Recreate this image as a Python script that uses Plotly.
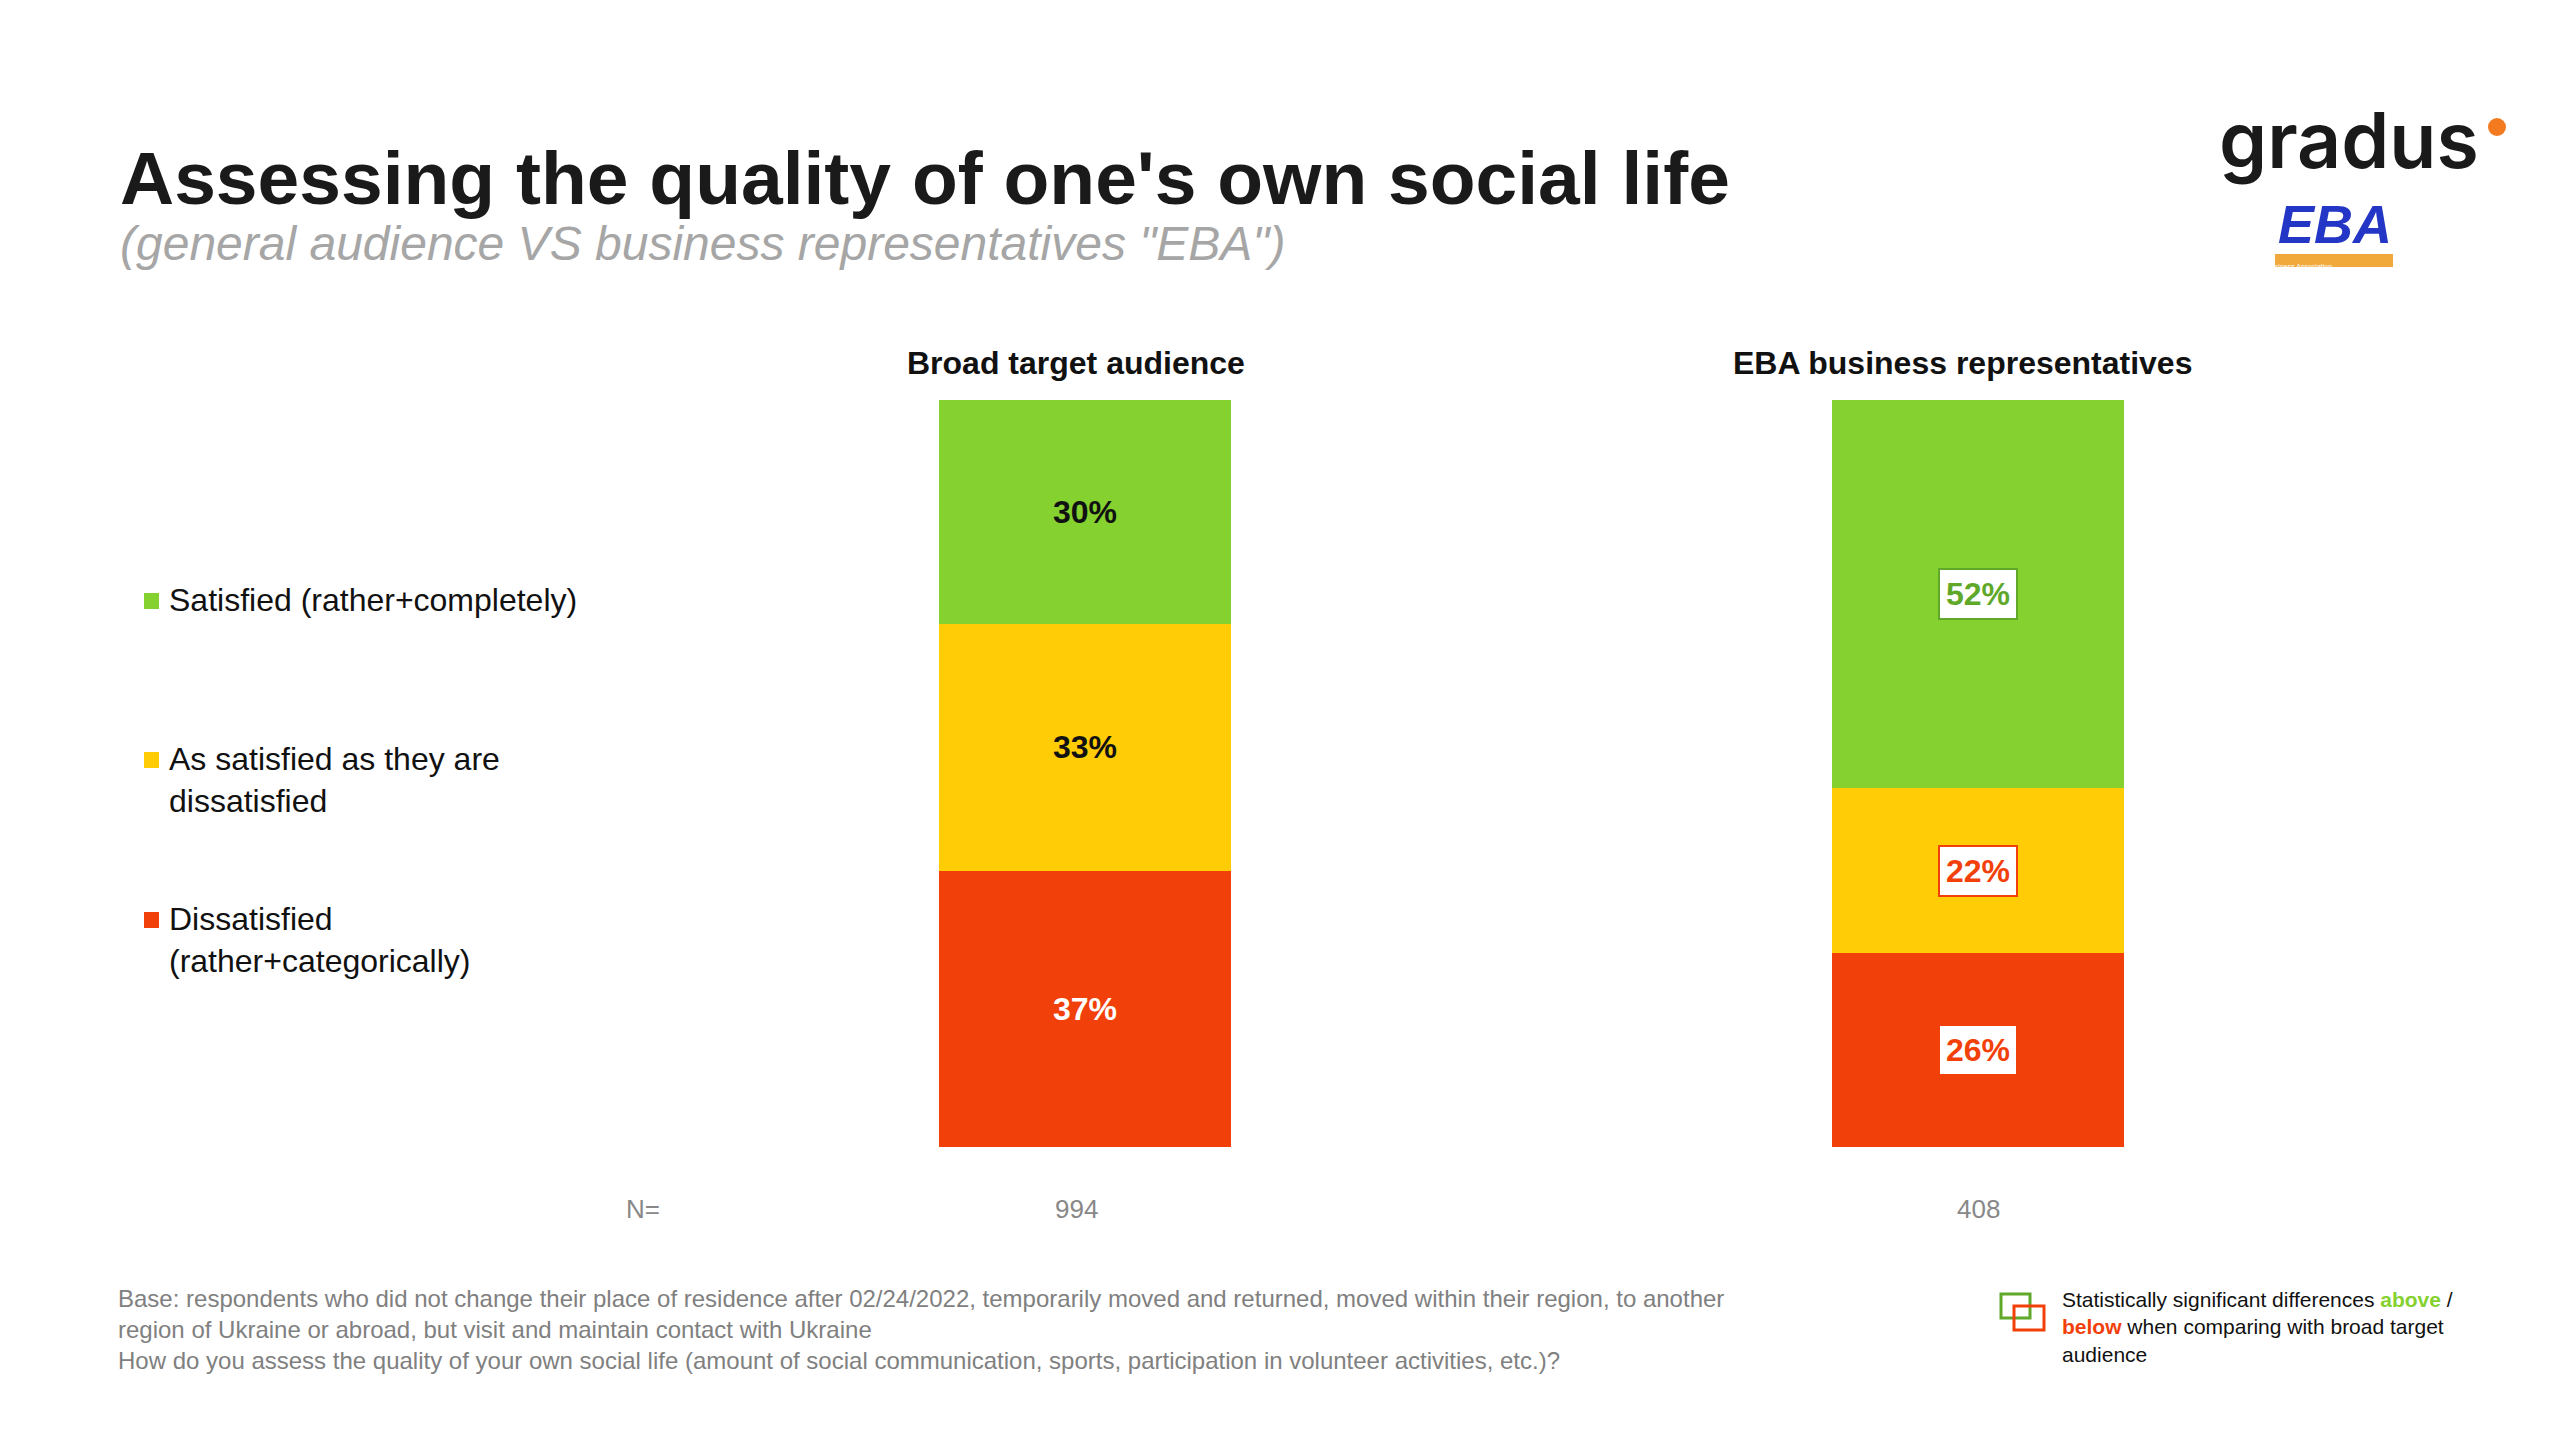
import plotly.graph_objects as go

groups = ["Broad target audience", "EBA business representatives"]
n_values = ["994", "408"]
categories = ["Dissatisfied<br>(rather+categorically)", "As satisfied as they are<br>dissatisfied", "Satisfied (rather+completely)"]
dissatisfied = [37, 26]
neutral = [33, 22]
satisfied = [30, 52]
colors = ["#F2400A", "#FFCC05", "#84D12F"]
broad_text_colors = ["#FFFFFF", "#111111", "#111111"]
eba_sig_colors = ["#F2400A", "#F2400A", "#5FA82A"]

series = [dissatisfied, neutral, satisfied]
xs = [0, 1]
W, H = 2560, 1440
FONT = "Liberation Sans, Arial, sans-serif"
C0, C1 = 1077.0, 1970.0
SPAN = C1 - C0

fig = go.Figure()
for vals, c in zip(series, colors):
    fig.add_trace(go.Bar(x=xs, y=vals, marker=dict(color=c, line=dict(width=0)), width=292 / SPAN, showlegend=False))

base = [0, 0]
for i, vals in enumerate(series):
    for g in range(2):
        mid = base[g] + vals[g] / 2
        if g == 0:
            fig.add_annotation(x=xs[g], y=mid, text=f"<b>{vals[g]}%</b>", showarrow=False,
                               font=dict(size=32, color=broad_text_colors[i], family=FONT))
        else:
            fig.add_annotation(x=xs[g], y=mid, text=f"<b>{vals[g]}%</b>", showarrow=False,
                               font=dict(size=32, color=eba_sig_colors[i], family=FONT),
                               bgcolor="white", bordercolor=eba_sig_colors[i], borderwidth=2, borderpad=6)
    base = [base[g] + vals[g] for g in range(2)]

for g in range(2):
    fig.add_annotation(x=xs[g] - (0.01 if g == 0 else 0.017), y=1 - 335 / H, yref="paper", text=f"<b>{groups[g]}</b>",
                       showarrow=False, font=dict(size=32, color="#111", family=FONT))
    fig.add_annotation(x=xs[g] - (0.009 if g == 0 else 0), y=1 - 1218 / H, yref="paper", text=n_values[g], showarrow=False,
                       font=dict(size=26, color="#888", family=FONT))
fig.add_annotation(x=616 / W, xref="paper", y=1 - 1218 / H, yref="paper", text="N=", showarrow=False,
                   font=dict(size=26, color="#888", family=FONT))

leg_y = [912, 752, 593]
for cat, c, y in zip(categories, colors, leg_y):
    fig.add_shape(type="rect", xref="paper", yref="paper", x0=136 / W, x1=151 / W,
                  y0=1 - (y + 8) / H, y1=1 - (y - 8) / H, fillcolor=c, line=dict(width=0))
    fig.add_annotation(x=159 / W, xref="paper", y=1 - (y - 21) / H, yref="paper", xanchor="left", yanchor="top",
                       text=cat, align="left", showarrow=False, font=dict(size=32, color="#111", family=FONT))

fig.add_annotation(x=110 / W, xref="paper", y=1 - 170 / H, yref="paper", xanchor="left", yanchor="middle",
                   text="<b>Assessing the quality of one's own social life</b>", showarrow=False,
                   font=dict(size=75, color="#1a1a1a", family=FONT))
fig.add_annotation(x=110 / W, xref="paper", y=1 - 236 / H, yref="paper", xanchor="left", yanchor="middle",
                   text="<i>(general audience VS business representatives \"EBA\")</i>", showarrow=False,
                   font=dict(size=48, color="#A6A6A6", family=FONT))

# logos
fig.add_annotation(x=2473 / W, xref="paper", y=1 - 132 / H, yref="paper", xanchor="right", yanchor="middle",
                   text="gradus", showarrow=False,
                   font=dict(size=77, color="#1a1a1a", family="Inter, sans-serif", weight=600))
fig.add_shape(type="circle", xref="paper", yref="paper", x0=2480 / W, x1=2498 / W, y0=1 - 128 / H, y1=1 - 110 / H,
              fillcolor="#F47A20", line=dict(width=0))
fig.add_annotation(x=2386 / W, xref="paper", y=1 - 248 / H, yref="paper", xanchor="right", yanchor="bottom",
                   text="<b><i>EBA</i></b>", showarrow=False,
                   font=dict(size=54, color="#2436C6", family=FONT))
fig.add_shape(type="rect", xref="paper", yref="paper", x0=2267 / W, x1=2385 / W, y0=1 - 259 / H, y1=1 - 246 / H,
              fillcolor="#F2A93B", line=dict(width=0))
fig.add_annotation(x=2326 / W, xref="paper", y=1 - 252.5 / H, yref="paper", text="European Business Association",
                   showarrow=False, font=dict(size=7, color="#fff", family=FONT))

foot = ("Base: respondents who did not change their place of residence after 02/24/2022, temporarily moved and returned, moved within their region, to another<br>"
        "region of Ukraine or abroad, but visit and maintain contact with Ukraine<br>"
        "How do you assess the quality of your own social life (amount of social communication, sports, participation in volunteer activities, etc.)?")
fig.add_annotation(x=108 / W, xref="paper", y=1 - 1275 / H, yref="paper", xanchor="left", yanchor="top", align="left",
                   text=foot, showarrow=False, font=dict(size=24, color="#808080", family=FONT))

fig.add_shape(type="rect", xref="paper", yref="paper", x0=1993 / W, x1=2022 / W, y0=1 - 1310 / H, y1=1 - 1286 / H,
              line=dict(color="#5FA82A", width=3))
fig.add_shape(type="rect", xref="paper", yref="paper", x0=2006 / W, x1=2036 / W, y0=1 - 1322 / H, y1=1 - 1298 / H,
              line=dict(color="#F2400A", width=3))
fig.add_annotation(x=2052 / W, xref="paper", y=1 - 1278 / H, yref="paper", xanchor="left", yanchor="top", align="left",
                   text=("Statistically significant differences <b><span style='color:#84D12F'>above</span></b> /<br>"
                         "<b><span style='color:#F2400A'>below</span></b> when comparing with broad target<br>audience"),
                   showarrow=False, font=dict(size=21, color="#111", family=FONT))

fig.update_layout(
    width=W, height=H, barmode="stack", plot_bgcolor="white", paper_bgcolor="white",
    margin=dict(l=0, r=0, t=0, b=0),
    xaxis=dict(range=[-C0 / SPAN, (W - C0) / SPAN], visible=False, domain=[0, 1]),
    yaxis=dict(range=[0, 100], visible=False, domain=[1 - 1139 / H, 1 - 392 / H]),
)
fig.write_html("out.html")
